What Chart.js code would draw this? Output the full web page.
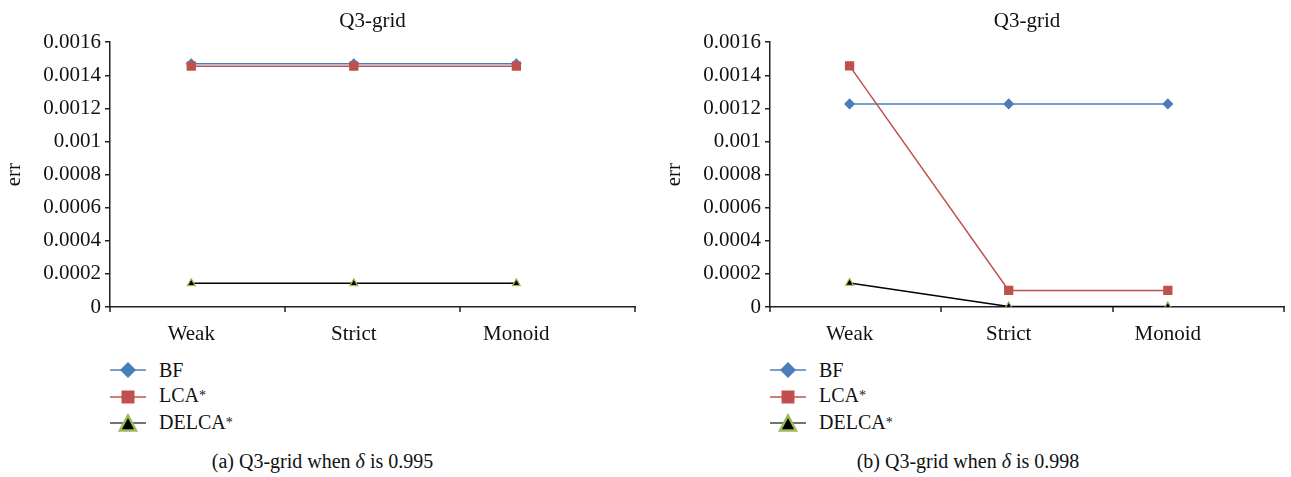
<!DOCTYPE html>
<html>
<head>
<meta charset="utf-8">
<script src="https://cdn.jsdelivr.net/npm/chart.js@4"></script>
<style>
  body { margin: 0; background: #fff; width: 1291px; height: 477px; overflow: hidden;
         font-family: 'Liberation Serif', serif; color: #111; }
  .panel { position: absolute; top: 0; height: 477px; }
  .legend { position: absolute; top: 357px; font-size: 20px; }
  .legend div { height: 26.5px; line-height: 26px; display: flex; align-items: center; }
  .legend svg { margin-right: 13px; }
  .caption { position: absolute; top: 450px; width: 100%; text-align: center; font-size: 20px; }
</style>
</head>
<body>
<div class="panel" style="left:0; width:645px;">
  <canvas id="chartA" width="645" height="345"></canvas>
  <div class="legend" id="legendA" style="left:110px;"></div>
  <div class="caption">(a) Q3-grid when <i>δ</i> is 0.995</div>
</div>
<div class="panel" style="left:645px; width:646px;">
  <canvas id="chartB" width="646" height="345"></canvas>
  <div class="legend" id="legendB" style="left:125px;"></div>
  <div class="caption">(b) Q3-grid when <i>δ</i> is 0.998</div>
</div>
<script>
const categories = ['Weak', 'Strict', 'Monoid'];
const seriesNames = ['BF', 'LCA*', 'DELCA*'];
const yTicks = [0, 0.0002, 0.0004, 0.0006, 0.0008, 0.001, 0.0012, 0.0014, 0.0016];

// (a) delta = 0.995
const bfA = [0.00147, 0.00147, 0.00147];
const lcaA = [0.001455, 0.001455, 0.001455];
const delcaA = [0.000143, 0.000143, 0.000143];

// (b) delta = 0.998
const bfB = [0.001227, 0.001227, 0.001227];
const lcaB = [0.001457, 0.0001, 0.0001];
const delcaB = [0.000145, 0.000003, 0.000003];

const blue = '#4a7ebb', red = '#c0504d', green = '#9bbb59';

Chart.defaults.font.family = "'Liberation Serif', serif";
Chart.defaults.color = '#111';

const toPoints = vals => vals.map((v, i) => ({ x: i, y: v }));

// category-style tick marks: the axis split in three equal parts
const xTickMarks = {
  id: 'xTickMarks',
  afterDraw(chart) {
    const a = chart.chartArea, c = chart.ctx;
    c.save();
    c.strokeStyle = '#222';
    c.lineWidth = 1.5;
    for (let k = 0; k <= 3; k++) {
      const x = Math.round(a.left + k * (a.right - a.left) / 3);
      c.beginPath();
      c.moveTo(x, a.bottom);
      c.lineTo(x, a.bottom + 5);
      c.stroke();
    }
    c.restore();
  }
};

function makeChart(id, bf, lca, delca, padLeft, padRight) {
  return new Chart(document.getElementById(id), {
    type: 'line',
    data: {
      datasets: [
        { label: seriesNames[0], data: toPoints(bf), order: 3,
          borderColor: blue, backgroundColor: blue, borderWidth: 1.5,
          pointStyle: 'rectRot', pointRadius: 4.5, pointBackgroundColor: blue, pointBorderColor: blue },
        { label: seriesNames[1], data: toPoints(lca), order: 2,
          borderColor: red, backgroundColor: red, borderWidth: 1.5,
          pointStyle: 'rect', pointRadius: 5.5, pointBackgroundColor: red, pointBorderColor: red },
        { label: seriesNames[2], data: toPoints(delca), order: 1,
          borderColor: '#000', backgroundColor: '#000', borderWidth: 1.5,
          pointStyle: 'triangle', pointRadius: 4.5, pointBackgroundColor: '#000',
          pointBorderColor: green, pointBorderWidth: 1.2 }
      ]
    },
    options: {
      responsive: false,
      animation: false,
      layout: { padding: { left: padLeft, right: padRight, top: 0, bottom: 0 } },
      plugins: {
        legend: { display: false },
        tooltip: { enabled: false },
        title: { display: true, text: 'Q3-grid', fullSize: false,
                 font: { size: 21, weight: 'normal' }, padding: { top: 9, bottom: 8 }, color: '#111' }
      },
      scales: {
        x: {
          type: 'linear', min: -0.5, max: 2.73,
          afterBuildTicks: s => { s.ticks = categories.map((c, i) => ({ value: i })); },
          afterFit: s => { s.height = 38; },
          grid: { display: false },
          border: { display: true, color: '#222', width: 1.5 },
          ticks: { callback: v => categories[v], font: { size: 21 }, padding: 7,
                   maxRotation: 0, autoSkip: false }
        },
        y: {
          min: 0, max: 0.0016,
          afterBuildTicks: s => { s.ticks = yTicks.map(v => ({ value: v })); },
          afterFit: s => { s.width = 110; },
          grid: { drawOnChartArea: false, drawTicks: true, tickLength: 5, color: '#222', lineWidth: 1.5 },
          border: { display: true, color: '#222', width: 1.5 },
          ticks: { callback: v => String(+v.toFixed(4)), font: { size: 21 }, padding: 4 },
          title: { display: true, text: 'err', font: { size: 21 }, padding: { top: 2, bottom: 10 } }
        }
      }
    },
    plugins: [xTickMarks]
  });
}

makeChart('chartA', bfA, lcaA, delcaA, 0, 10);
makeChart('chartB', bfB, lcaB, delcaB, 15, 1);

function marker(i) {
  const line = '<line x1="0" y1="10" x2="36" y2="10" stroke="' + [blue, red, '#444'][i] + '" stroke-width="1.5"/>';
  const shapes = [
    '<polygon points="18,2 26,10 18,18 10,10" fill="' + blue + '"/>',
    '<rect x="11.5" y="3.5" width="13" height="13" fill="' + red + '"/>',
    '<polygon points="18,2.5 26,17.5 10,17.5" fill="#000" stroke="' + green + '" stroke-width="2.5" stroke-linejoin="miter"/>'
  ];
  return '<svg width="36" height="20">' + line + shapes[i] + '</svg>';
}
for (const id of ['legendA', 'legendB']) {
  document.getElementById(id).innerHTML = seriesNames
    .map((n, i) => '<div>' + marker(i) + '<span>' + n.replace('*', '<span style="font-size:14px;position:relative;top:-2px">*</span>') + '</span></div>')
    .join('');
}
</script>
</body>
</html>
